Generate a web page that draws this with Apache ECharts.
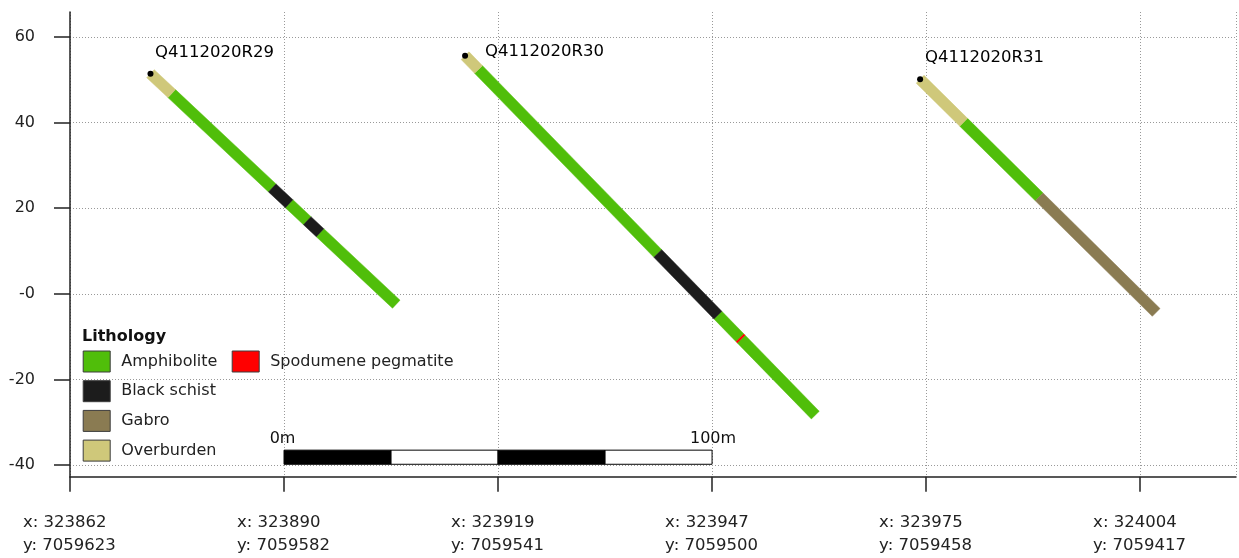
<!DOCTYPE html>
<html>
<head>
<meta charset="utf-8">
<script src="https://cdn.jsdelivr.net/npm/echarts@6/dist/echarts.min.js"></script>
<style>
html, body { margin: 0; padding: 0; background: #fff; }
#main { width: 1239px; height: 558px; }
</style>
</head>
<body>
<div id="main"></div>
<script>
var chartDom = document.getElementById('main');
var myChart = echarts.init(chartDom, null, { width: 1239, height: 558 });

// lithology legend
var lithologies = ['Amphibolite', 'Black schist', 'Gabro', 'Overburden', 'Spodumene pegmatite'];
var lithColors = ['#50be0a', '#1c1c1c', '#8a7b52', '#cfc87a', '#ff0000'];

// drill holes, in section coordinates [distance along section (m), elevation (m)]
var holeNames = ['Q4112020R29', 'Q4112020R30', 'Q4112020R31'];
var holeCollars = [[18.8, 51.4], [92.3, 55.6], [198.6, 50.1]];
var holeToes = [[76.2, -2.4], [174.1, -28.3], [253.7, -4.3]];

// downhole intervals: [hole, from (m), to (m), lithology]
var intervals = [
    [0, 0, 6.8, 'Overburden'],
    [0, 6.8, 39.0, 'Amphibolite'],
    [0, 39.0, 44.4, 'Black schist'],
    [0, 44.4, 50.2, 'Amphibolite'],
    [0, 50.2, 54.3, 'Black schist'],
    [0, 54.3, 78.7, 'Amphibolite'],
    [1, 0, 4.5, 'Overburden'],
    [1, 4.5, 64.5, 'Amphibolite'],
    [1, 64.5, 84.6, 'Black schist'],
    [1, 84.6, 92.0, 'Amphibolite'],
    [1, 92.0, 92.4, 'Spodumene pegmatite'],
    [1, 92.4, 117.2, 'Amphibolite'],
    [2, 0, 14.3, 'Overburden'],
    [2, 14.3, 39.1, 'Amphibolite'],
    [2, 39.1, 77.5, 'Gabro']
];

// section tick labels (real world coordinates every 50 m)
var sectionX = ['323862', '323890', '323919', '323947', '323975', '324004'];
var sectionY = ['7059623', '7059582', '7059541', '7059500', '7059458', '7059417'];
var elevTicks = [-40, -20, 0, 20, 40, 60];

// scale bar: 100 m in 4 blocks
var scaleBarStart = 50;
var scaleBarBlocks = [0, 25, 50, 75, 100];
var scaleBarElev = [-36.5, -39.8];

var labelOffsets = [[1.5, -21], [17, -4], [2, -22]];
var font = 'DejaVu Sans';

function pointAt(h, depth) {
    var c = holeCollars[h], t = holeToes[h];
    var dx = t[0] - c[0], dy = t[1] - c[1];
    var len = Math.sqrt(dx * dx + dy * dy);
    var f = depth / len;
    return [c[0] + dx * f, c[1] + dy * f];
}

function renderSegment(params, api) {
    var p1 = api.coord([api.value(0), api.value(1)]);
    var p2 = api.coord([api.value(2), api.value(3)]);
    var dx = p2[0] - p1[0], dy = p2[1] - p1[1];
    var len = Math.sqrt(dx * dx + dy * dy);
    var nx = -dy / len * 5.5, ny = dx / len * 5.5;
    var col = api.visual('color');
    return {
        type: 'polygon',
        shape: {
            points: [
                [p1[0] + nx, p1[1] + ny], [p2[0] + nx, p2[1] + ny],
                [p2[0] - nx, p2[1] - ny], [p1[0] - nx, p1[1] - ny]
            ]
        },
        style: { fill: col, stroke: col, lineWidth: 0.5 }
    };
}

var series = lithologies.map(function (lith, i) {
    var data = intervals.filter(function (it) { return it[3] === lith; }).map(function (it) {
        var a = pointAt(it[0], it[1]), b = pointAt(it[0], it[2]);
        return [a[0], a[1], b[0], b[1]];
    });
    return {
        type: 'custom',
        name: lith,
        renderItem: renderSegment,
        encode: { x: [0, 2], y: [1, 3] },
        itemStyle: { color: lithColors[i] },
        data: data,
        z: 3
    };
});

series.push({
    type: 'scatter',
    name: 'collars',
    symbol: 'circle',
    symbolSize: 6,
    itemStyle: { color: '#000', opacity: 1 },
    z: 5,
    data: holeCollars.map(function (c, i) {
        return {
            value: c,
            name: holeNames[i],
            label: { offset: labelOffsets[i] }
        };
    }),
    label: {
        show: true,
        position: 'right',
        distance: 0,
        formatter: '{b}',
        fontFamily: font,
        fontSize: 16.5,
        color: '#000',
        opacity: 1
    }
});

series.push({
    type: 'custom',
    name: 'scalebar',
    z: 4,
    data: scaleBarBlocks.slice(0, -1).map(function (b, i) {
        return [scaleBarStart + b, scaleBarStart + scaleBarBlocks[i + 1], i];
    }),
    encode: { x: [0, 1] },
    renderItem: function (params, api) {
        var a = api.coord([api.value(0), scaleBarElev[0]]);
        var b = api.coord([api.value(1), scaleBarElev[1]]);
        var idx = api.value(2);
        var children = [{
            type: 'rect',
            shape: { x: a[0], y: a[1], width: b[0] - a[0], height: b[1] - a[1] },
            style: { fill: idx % 2 === 0 ? '#000' : '#fff', stroke: '#000', lineWidth: 1 }
        }];
        if (idx === 0) {
            children.push({ type: 'text', x: a[0] - 1.5, y: a[1] - 3,
                style: { text: '0m', fill: '#111', font: '16px "DejaVu Sans"', align: 'center', verticalAlign: 'bottom' } });
        }
        if (idx === scaleBarBlocks.length - 2) {
            children.push({ type: 'text', x: b[0] + 1, y: a[1] - 3,
                style: { text: scaleBarBlocks[scaleBarBlocks.length - 1] + 'm', fill: '#111', font: '16px "DejaVu Sans"', align: 'center', verticalAlign: 'bottom' } });
        }
        return { type: 'group', children: children };
    }
});

var legendCommon = {
    orient: 'vertical',
    top: 350.5,
    padding: 0,
    itemWidth: 27,
    itemHeight: 21,
    itemGap: 7.7,
    icon: 'rect',
    selectedMode: false,
    itemStyle: { borderColor: '#3c3c3c', borderWidth: 1 },
    textStyle: { fontFamily: font, fontSize: 16, color: '#222', padding: [0, 0, 0, 6] }
};

var option = {
    animation: false,
    textStyle: { fontFamily: font },
    title: {
        text: 'Lithology',
        left: 82,
        top: 329,
        padding: 0,
        textStyle: { fontFamily: font, fontSize: 16, fontWeight: 'bold', color: '#111' }
    },
    legend: [
        Object.assign({}, legendCommon, { left: 82.7, data: lithologies.slice(0, 4) }),
        Object.assign({}, legendCommon, { left: 231.7, data: lithologies.slice(4) })
    ],
    grid: { left: 70, right: 3, top: 12, bottom: 81.3, outerBoundsMode: 'none' },
    xAxis: {
        type: 'value',
        min: 0,
        max: 272.4,
        interval: 50,
        axisLine: { show: true, onZero: false, lineStyle: { color: '#222', width: 1.5 } },
        axisTick: { show: true, length: 15, lineStyle: { color: '#222', width: 1.5 } },
        axisLabel: {
            margin: 35,
            showMaxLabel: false,
            formatter: function (v) {
                var i = Math.round(v / 50);
                return '{a|x: ' + sectionX[i] + '}\n{a|y: ' + sectionY[i] + '}';
            },
            rich: {
                a: { width: 94, align: 'left', fontFamily: font, fontSize: 16.5, lineHeight: 23, color: '#222' }
            }
        },
        splitLine: { show: true, lineStyle: { color: '#999', type: [1, 2], width: 1 } }
    },
    yAxis: {
        type: 'value',
        min: -42.7,
        max: 65.8,
        axisLine: { show: true, lineStyle: { color: '#222', width: 1.5 } },
        axisTick: { show: true, length: 16, customValues: elevTicks, lineStyle: { color: '#222', width: 1.5 } },
        axisLabel: {
            customValues: elevTicks,
            margin: 35,
            fontFamily: font,
            fontSize: 16,
            color: '#222',
            formatter: function (v) { return v === 0 ? '-0' : String(v); }
        },
        splitLine: { show: true, lineStyle: { color: '#999', type: [1, 2], width: 1 } }
    },
    series: series
};

option && myChart.setOption(option);
</script>
</body>
</html>
